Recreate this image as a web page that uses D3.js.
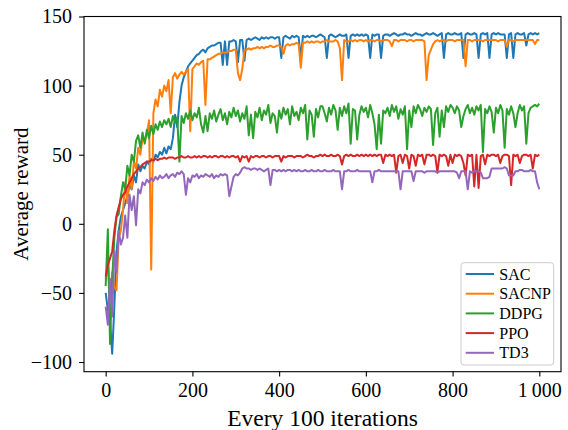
<!DOCTYPE html>
<html>
<head>
<meta charset="utf-8">
<script src="https://cdn.jsdelivr.net/npm/d3@7"></script>
<style>
  body { margin: 0; background: #fff; }
  svg text { font-family: "Liberation Serif", "Times New Roman", serif !important; }
</style>
</head>
<body>
<div id="chart"></div>
<script>
// iterations (every 5th point)
const iters = d3.range(0, 1001, 5);

const sac = [
  -50,-62,-70,-94,-60,-20,-5,5,10,15,20,28,25,35,30,43,38,42,40,45,
  43,47,45,50,48,52,50,55,51,56,54,62,79,70,88,100,106,110,114,116,
  118,120,122,123,125,126,124,127,128,129,129,130,131,131,115,132,115,132,132,133,
  132,117,133,133,118,133,134,133,134,135,134,133,135,134,135,134,135,135,134,135,
  135,120,135,136,135,134,136,135,136,135,120,136,135,136,135,136,136,135,136,137,
  136,135,120,136,137,136,135,136,137,136,136,137,120,136,137,136,137,136,137,136,
  137,136,120,137,136,137,137,120,136,137,137,136,137,138,137,136,137,137,138,137,
  137,136,137,138,137,137,136,137,138,137,137,138,137,136,137,138,120,137,138,137,
  137,138,137,137,138,120,137,138,137,137,138,137,120,137,138,137,138,120,137,138,
  137,138,137,137,137,120,137,138,120,137,138,137,137,138,129,137,138,137,138,137,
  138
];

const sacnp = [
  -40,-30,-55,-35,-46,-48,-10,-5,10,30,15,35,25,45,40,55,50,62,60,65,
  75,-33,80,90,85,97,92,100,96,104,80,106,109,105,108,110,108,110,112,67,
  112,114,116,115,117,118,86,119,119,120,121,122,123,123,124,124,124,125,125,126,
  126,109,104,112,126,126,127,126,127,127,128,127,128,127,128,128,129,128,128,129,
  129,128,123,129,130,129,130,130,131,130,113,131,131,132,131,132,131,132,132,131,
  132,132,133,132,132,132,133,132,127,104,133,132,132,133,132,133,132,133,133,132,
  133,132,133,133,132,133,133,132,133,133,133,132,128.5,133,133,132,133,133,133,132,
  133,133,132,133,133,133,133,132,104,122,126,130,132,133,132,133,133,132,133,133,
  133,132,133,133,133,133,114,133,133,132,133,133,133,133,132,133,133,133,133,133,
  133,132,133,133,133,128,133,133,132,133,133,133,133,133,133,133,133,133,130,133,
  133
];

const ddpg = [
  -45,-4,-87,-40,-10,5,7,20,30,25,42,35,50,45,60,64,55,66,58,68,
  62,71,65,72,68,74,70,75,72,76,70,78,74,77,45,78,73,80,76,82,
  75,80,77,84,72,66,78,67,80,76,82,74,79,83,75,80,72,81,77,84,
  78,82,74,80,76,85,64,79,62,81,77,84,75,82,79,86,73,80,78,66,
  82,76,84,79,83,72,85,78,81,75,84,80,86,61,82,79,63,83,77,85,
  85,80,74,84,79,86,82,68,84,78,85,80,87,58,83,82,61,79,85,81,
  84,77,86,80,72,54,79,58,82,80,84,78,86,81,85,76,83,79,85,54,
  82,70,85,80,86,83,78,84,81,85,83,57,80,84,63,82,70,85,81,86,
  84,80,85,82,70,78,83,86,80,84,79,85,82,86,52,83,80,85,81,66,
  84,80,86,82,55,83,79,85,80,70,80,86,82,85,58,80,84,85,86,85,
  87
];

const ppo = [
  -38,-30,-25,-20,-5,6,12,18,21,23,27,30,33,36,38,40,41,43,44,45,
  45,46,46,47,46,47,47,48,47,48,48,48,47,48,48,49,48,48,49,48,
  48,49,48,49,48,49,49,48,49,48,49,49,48,49,49,48,49,48,49,49,
  48,49,45,49,48,49,45,49,48,49,49,48,49,49,48,49,49,48,49,49,
  49,45,49,48,49,49,49,48,49,49,49,48,49,50,49,49,48,49,49,50,
  49,50,49,49,50,49,49,50,49,43,49,50,49,50,49,49,50,49,50,49,
  50,49,50,49,50,49,50,50,44,50,49,50,49,50,37,49,50,44,50,49,
  40,50,49,42,50,49,50,43,50,50,49,50,49,37,50,49,50,49,42,50,
  44,50,49,50,49,44,35,50,49,50,27,50,26,49,50,43,50,49,50,50,
  49,50,44,49,50,50,49,28,50,49,50,44,49,50,50,49,50,40,50,49,
  50
];

const td3 = [
  -60,-73,-40,-67,-20,-35,-5,-15,-10,6,-10,21,10,20,-1,25,22,30,28,32,
  30,33,31,34,32,35,33,34,36,33,35,36,34,37,36,38,36,21,33,30,
  35,34,36,33,35,34,36,35,34,36,33,35,34,36,35,36,35,20,27,34,
  36,35,37,40,41,40,40,39,40,40,39,40,39,38,39,40,28,39,39,38,
  39,38,39,38,39,39,38,39,38,39,38,38,39,38,38,39,38,38,39,38,
  38,39,38,38,38,39,38,38,38,25,38,38,39,38,38,38,39,38,38,38,
  38,38,38,30,38,38,39,38,38,38,38,38,38,38,38,38,25,38,38,38,
  38,38,31,38,38,38,38,37,38,38,38,38,38,37,38,38,38,38,38,38,
  38,38,37,33,38,38,38,25,38,37,38,38,38,37,33,33,33,34,40,40,
  40,40,40,40,41,40,35,35,35,38,38,39,39,38,38,38,39,38,38,30,
  25
];

const seriesNames = ["SAC", "SACNP", "DDPG", "PPO", "TD3"];
const seriesValues = [sac, sacnp, ddpg, ppo, td3];
const colors = ["#1f77b4", "#ff7f0e", "#2ca02c", "#d62728", "#9467bd"];

const xTicks = [0, 200, 400, 600, 800, 1000];
const yTicks = [-100, -50, 0, 50, 100, 150];

// Chart dimensions
const width = 568, height = 430;
const plot = { left: 84, right: 561, top: 16.5, bottom: 371.7 };

const svg = d3.select("#chart")
    .append("svg")
    .attr("width", width)
    .attr("height", height)
    .attr("font-family", "Liberation Serif, serif");

const x = d3.scaleLinear().domain([-50, 1050]).range([plot.left, plot.right]);
const y = d3.scaleLinear().domain([-107, 150]).range([plot.bottom, plot.top]);

// Lines
const line = d3.line()
    .x((d, i) => x(iters[i]))
    .y(d => y(d));

svg.append("g")
    .selectAll("path")
    .data(seriesValues)
    .enter()
    .append("path")
    .attr("d", d => line(d))
    .attr("fill", "none")
    .attr("stroke", (d, i) => colors[i])
    .attr("stroke-width", 2)
    .attr("stroke-linejoin", "round");

// Spines
svg.append("rect")
    .attr("x", plot.left)
    .attr("y", plot.top)
    .attr("width", plot.right - plot.left)
    .attr("height", plot.bottom - plot.top)
    .attr("fill", "none")
    .attr("stroke", "#000")
    .attr("stroke-width", 1.1);

// X axis
const xAxis = svg.append("g")
    .attr("transform", `translate(0,${plot.bottom})`)
    .call(d3.axisBottom(x)
        .tickValues(xTicks)
        .tickSize(4.9)
        .tickSizeOuter(0)
        .tickPadding(6)
        .tickFormat(d => d === 1000 ? "1\u2009000" : d))
    .attr("font-family", null)
    .attr("font-size", 20);
xAxis.select(".domain").remove();
xAxis.selectAll("line").attr("stroke-width", 1.1);
xAxis.selectAll("text").attr("fill", "#000");

// Y axis
const yAxis = svg.append("g")
    .attr("transform", `translate(${plot.left},0)`)
    .call(d3.axisLeft(y)
        .tickValues(yTicks)
        .tickSize(4.9)
        .tickSizeOuter(0)
        .tickPadding(7))
    .attr("font-family", null)
    .attr("font-size", 20);
yAxis.select(".domain").remove();
yAxis.selectAll("line").attr("stroke-width", 1.1);
yAxis.selectAll("text").attr("fill", "#000");

// Axis labels
svg.append("text")
    .attr("text-anchor", "middle")
    .attr("x", (plot.left + plot.right) / 2)
    .attr("y", 426)
    .attr("font-size", 23.5)
    .text("Every 100 iterations");

svg.append("text")
    .attr("text-anchor", "middle")
    .attr("transform", `translate(28,${(plot.top + plot.bottom) / 2}) rotate(-90)`)
    .attr("font-size", 21)
    .text("Average reward");

// Legend
const legend = svg.append("g").attr("transform", "translate(461,262.7)");
legend.append("rect")
    .attr("width", 92.7)
    .attr("height", 102.3)
    .attr("rx", 3)
    .attr("fill", "#fff")
    .attr("fill-opacity", 0.8)
    .attr("stroke", "#ccc")
    .attr("stroke-width", 1);

const items = legend.selectAll("g.item")
    .data(seriesNames)
    .enter()
    .append("g")
    .attr("class", "item")
    .attr("transform", (d, i) => `translate(0,${11.3 + i * 19.7})`);
items.append("line")
    .attr("x1", 4.7)
    .attr("x2", 33)
    .attr("stroke", (d, i) => colors[i])
    .attr("stroke-width", 2);
items.append("text")
    .attr("x", 38.3)
    .attr("dy", "0.35em")
    .attr("font-size", 16)
    .text(d => d);
</script>
</body>
</html>
